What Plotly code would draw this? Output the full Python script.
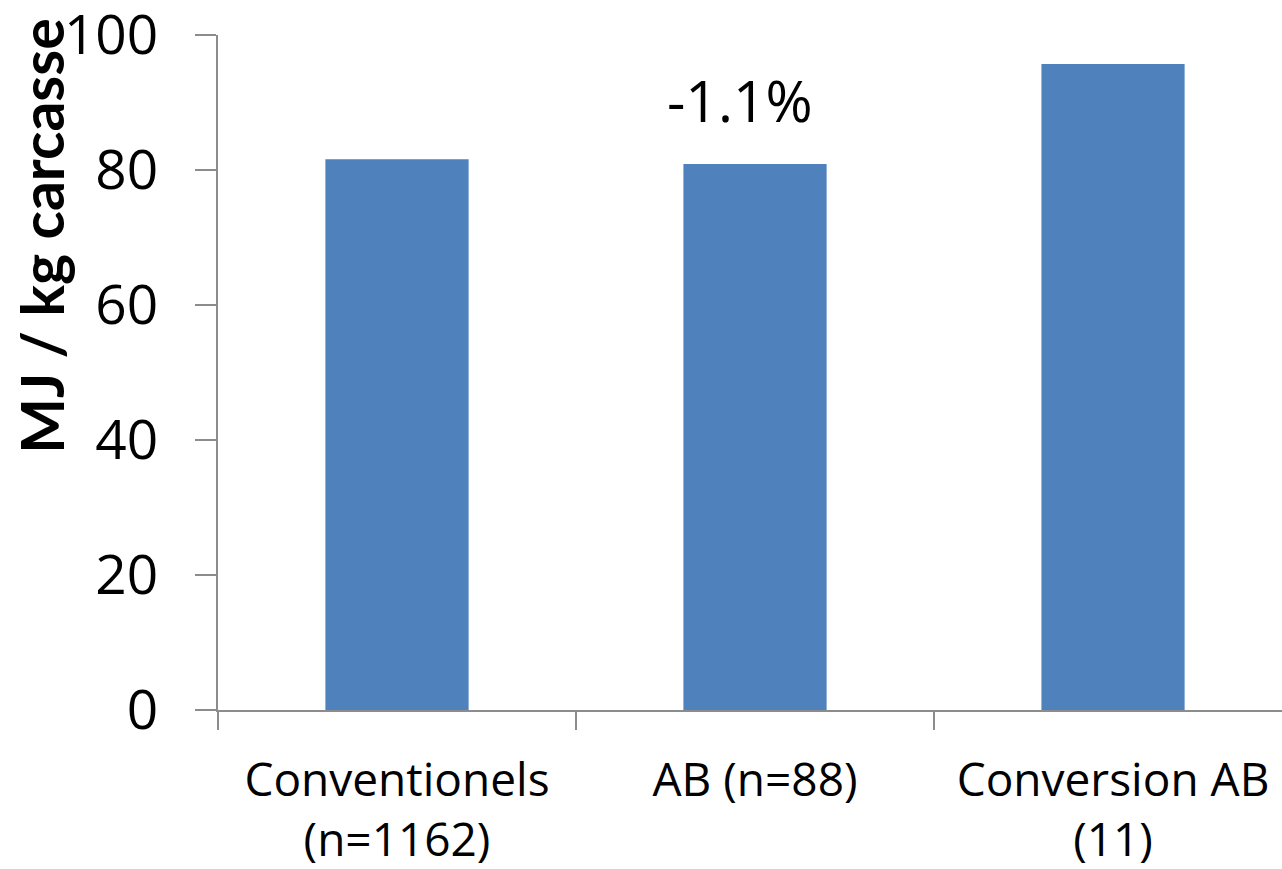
import plotly.graph_objects as go

# Energy use per kg of carcass, by farming system
categories = ["Conventionels<br>(n=1162)", "AB (n=88)", "Conversion AB<br>(11)"]
energy_mj_per_kg = [81.6, 80.9, 95.7]
y_ticks = [0, 20, 40, 60, 80, 100]
diff_label = "-1.1%"

BAR_COLOR = "#4F81BD"
AXIS_COLOR = "#8C8C8C"
TEXT_FONT = "Open Sans"

fig = go.Figure(
    go.Bar(
        x=categories,
        y=energy_mj_per_kg,
        width=0.4,
        marker=dict(color=BAR_COLOR, line=dict(width=0)),
        hoverinfo="skip",
    )
)

fig.update_layout(
    width=1282,
    height=869,
    margin=dict(l=218, r=0, t=35, b=159),
    paper_bgcolor="white",
    plot_bgcolor="white",
    showlegend=False,
    font=dict(family=TEXT_FONT, color="black"),
)

fig.update_xaxes(
    type="category",
    range=[-0.5, 2.472],
    automargin=False,
    showline=True,
    linecolor=AXIS_COLOR,
    linewidth=1.5,
    showgrid=False,
    ticks="outside",
    tickson="boundaries",
    ticklen=18,
    tickwidth=1.5,
    tickcolor=AXIS_COLOR,
    tickfont=dict(family=TEXT_FONT, size=46, color="black"),
    ticklabelstandoff=29,
    ticklabeloverflow="allow",
)

fig.update_yaxes(
    range=[0, 100],
    tickvals=y_ticks,
    automargin=False,
    showline=True,
    linecolor=AXIS_COLOR,
    linewidth=1.5,
    showgrid=False,
    zeroline=False,
    ticks="outside",
    ticklen=21,
    tickwidth=1.5,
    tickcolor=AXIS_COLOR,
    tickfont=dict(family=TEXT_FONT, size=55, color="black"),
    ticklabelstandoff=26,
    ticklabeloverflow="allow",
)

# Axis title, set higher than the axis middle
fig.add_annotation(
    text="<b>MJ / kg carcasse</b>",
    textangle=-90,
    xref="paper",
    yref="paper",
    x=-0.166,
    y=0.703,
    xanchor="center",
    yanchor="middle",
    showarrow=False,
    font=dict(family="Lato", size=59, color="black"),
)

# Relative difference shown above the AB bar
fig.add_annotation(
    text=diff_label,
    x=categories[1],
    y=90.3,
    xshift=-15,
    yanchor="middle",
    showarrow=False,
    font=dict(family=TEXT_FONT, size=57, color="black"),
)

fig.write_html("out.html")
